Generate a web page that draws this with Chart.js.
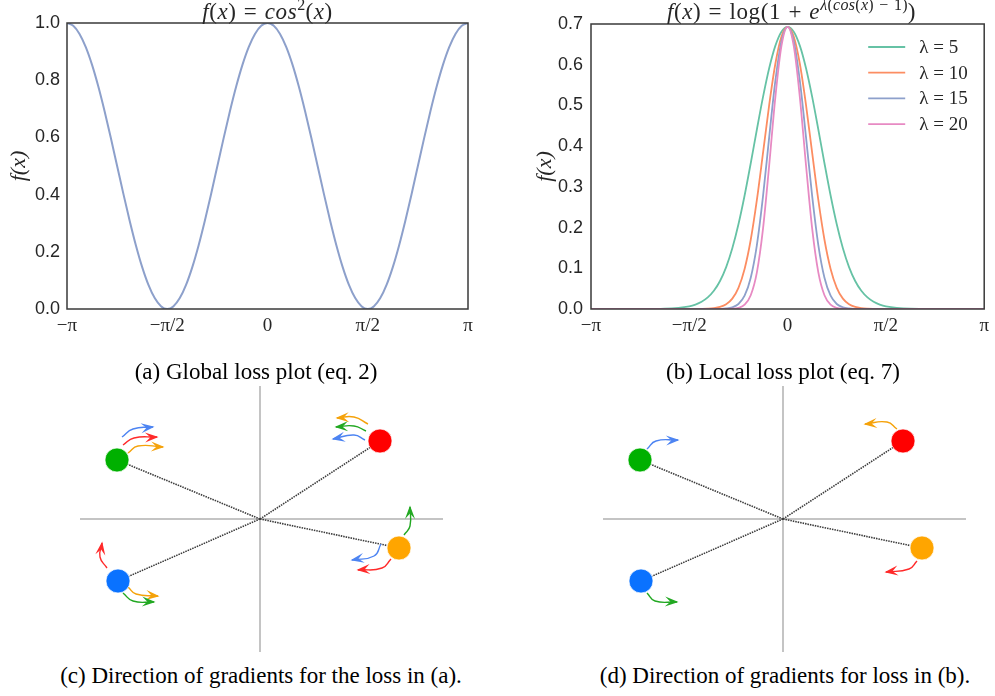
<!DOCTYPE html>
<html><head><meta charset="utf-8">
<script src="https://cdn.jsdelivr.net/npm/chart.js@4.4.0/dist/chart.umd.min.js"></script>
<style>
html,body{margin:0;padding:0;background:#fff;}
#root{position:relative;width:995px;height:696px;overflow:hidden;background:#fff;}
canvas{position:absolute;}
.t{position:absolute;text-align:center;font-family:"Liberation Serif","Times New Roman",serif;white-space:nowrap;}
.title{font-size:23px;line-height:22px;color:#262626;top:1px;letter-spacing:0.6px;word-spacing:1px;}
.title sup{font-size:16px;line-height:0;letter-spacing:0.3px;}
.cap{font-size:23px;line-height:26px;color:#000;width:500px;}
</style></head><body><div id="root">
<canvas id="ca" width="480" height="340" style="left:0;top:0"></canvas>
<canvas id="cb" width="495" height="340" style="left:500px;top:0"></canvas>
<canvas id="cc" width="400" height="280" style="left:60px;top:379px"></canvas>
<canvas id="cd" width="400" height="280" style="left:583px;top:379px"></canvas>
<div class="t title" style="left:67px;width:401px"><i>f</i>(<i>x</i>) = <i>cos</i><sup>2</sup>(<i>x</i>)</div>
<div class="t title" style="left:591px;width:401px"><i>f</i>(<i>x</i>) = log(1 + <i>e</i><sup><i>λ</i>(<i>cos</i>(<i>x</i>) − 1)</sup>)</div>
<div class="t cap" style="left:6px;top:359px">(a) Global loss plot (eq. 2)</div>
<div class="t cap" style="left:533px;top:359px">(b) Local loss plot (eq. 7)</div>
<div class="t cap" style="left:11px;top:663px">(c) Direction of gradients for the loss in (a).</div>
<div class="t cap" style="left:535px;top:663px">(d) Direction of gradients for loss in (b).</div>
</div>
<script>
// ---------- data: top panels (x in units of π) ----------
const xTickValues = [-1, -0.5, 0, 0.5, 1];
const xTickLabels = ['−π', '−π/2', '0', 'π/2', 'π'];
const yTicksA = [0, 0.2, 0.4, 0.6, 0.8, 1.0];
const yTicksB = [0, 0.1, 0.2, 0.3, 0.4, 0.5, 0.6, 0.7];

const xA = [-1, -0.96875, -0.9375, -0.90625, -0.875, -0.84375, -0.8125, -0.78125, -0.75, -0.71875, -0.6875, -0.65625, -0.625, -0.59375, -0.5625, -0.53125,
  -0.5, -0.46875, -0.4375, -0.40625, -0.375, -0.34375, -0.3125, -0.28125, -0.25, -0.21875, -0.1875, -0.15625, -0.125, -0.09375, -0.0625, -0.03125,
  0, 0.03125, 0.0625, 0.09375, 0.125, 0.15625, 0.1875, 0.21875, 0.25, 0.28125, 0.3125, 0.34375, 0.375, 0.40625, 0.4375, 0.46875,
  0.5, 0.53125, 0.5625, 0.59375, 0.625, 0.65625, 0.6875, 0.71875, 0.75, 0.78125, 0.8125, 0.84375, 0.875, 0.90625, 0.9375, 0.96875, 1];
const cosSquared = [1, 0.99039, 0.96194, 0.91573, 0.85355, 0.77779, 0.69134, 0.59755, 0.5, 0.40245, 0.30866, 0.22221, 0.14645, 0.08427, 0.03806, 0.00961,
  0, 0.00961, 0.03806, 0.08427, 0.14645, 0.22221, 0.30866, 0.40245, 0.5, 0.59755, 0.69134, 0.77779, 0.85355, 0.91573, 0.96194, 0.99039,
  1, 0.99039, 0.96194, 0.91573, 0.85355, 0.77779, 0.69134, 0.59755, 0.5, 0.40245, 0.30866, 0.22221, 0.14645, 0.08427, 0.03806, 0.00961,
  0, 0.00961, 0.03806, 0.08427, 0.14645, 0.22221, 0.30866, 0.40245, 0.5, 0.59755, 0.69134, 0.77779, 0.85355, 0.91573, 0.96194, 0.99039, 1];

const xB = [-1, -0.75, -0.625, -0.5, -0.46875, -0.4375, -0.40625, -0.375, -0.34375, -0.3125, -0.28125, -0.25, -0.21875, -0.1875, -0.15625, -0.125, -0.09375, -0.0625, -0.03125,
  0, 0.03125, 0.0625, 0.09375, 0.125, 0.15625, 0.1875, 0.21875, 0.25, 0.28125, 0.3125, 0.34375, 0.375, 0.40625, 0.4375, 0.46875, 0.5, 0.625, 0.75, 1];
const lambdaLabels = ['λ = 5', 'λ = 10', 'λ = 15', 'λ = 20'];
const lambda5 = [0.00005, 0.0002, 0.00099, 0.00672, 0.01094, 0.01771, 0.02836, 0.04465, 0.06873, 0.10289, 0.14906, 0.20799, 0.27872, 0.35807, 0.4409, 0.52084, 0.59129, 0.64628, 0.68117,
  0.69315, 0.68117, 0.64628, 0.59129, 0.52084, 0.4409, 0.35807, 0.27872, 0.20799, 0.14906, 0.10289, 0.06873, 0.04465, 0.02836, 0.01771, 0.01094, 0.00672, 0.00099, 0.0002, 0.00005];
const lambda10 = [0, 0, 0, 0.00005, 0.00012, 0.00032, 0.00083, 0.00208, 0.00505, 0.01168, 0.0255, 0.05208, 0.09833, 0.17007, 0.26777, 0.38329, 0.50086, 0.60171, 0.66934,
  0.69315, 0.66934, 0.60171, 0.50086, 0.38329, 0.26777, 0.17007, 0.09833, 0.05208, 0.0255, 0.01168, 0.00505, 0.00208, 0.00083, 0.00032, 0.00012, 0.00005, 0, 0, 0];
const lambda15 = [0, 0, 0, 0, 0, 0.00001, 0.00003, 0.0001, 0.00036, 0.00127, 0.00414, 0.01228, 0.03267, 0.0768, 0.15712, 0.27706, 0.42146, 0.55942, 0.65765,
  0.69315, 0.65765, 0.55942, 0.42146, 0.27706, 0.15712, 0.0768, 0.03267, 0.01228, 0.00414, 0.00127, 0.00036, 0.0001, 0.00003, 0.00001, 0, 0, 0, 0, 0];
const lambda20 = [0, 0, 0, 0, 0, 0, 0, 0.00001, 0.00003, 0.00014, 0.00067, 0.00285, 0.01062, 0.03379, 0.09009, 0.19736, 0.35253, 0.51939, 0.64611,
  0.69315, 0.64611, 0.51939, 0.35253, 0.19736, 0.09009, 0.03379, 0.01062, 0.00285, 0.00067, 0.00014, 0.00003, 0.00001, 0, 0, 0, 0, 0, 0, 0];

// ---------- data: bottom panels (plane coordinates, origin at axis crossing) ----------
const particleNames = ['green', 'red', 'orange', 'blue'];
const particleX = [-1.43, 1.20, 1.39, -1.42];
const particleY = [0.59, 0.78, -0.29, -0.62];
const axisHorizontal = [[-1.80, 0], [1.83, 0]];
const axisVertical = [[0, 1.33], [0, -1.33]];

// gradient arrows in (c): colour name + path (start, bend, tip)
const arrowsCColor = ['blue', 'red', 'orange', 'orange', 'green', 'blue', 'green', 'blue', 'red', 'red', 'orange', 'green'];
const arrowsCPath = [
  [[-1.38, 0.82], [-1.27, 0.90], [-1.07, 0.92]],
  [[-1.37, 0.74], [-1.26, 0.81], [-1.03, 0.82]],
  [[-1.32, 0.66], [-1.22, 0.73], [-0.97, 0.72]],
  [[1.08, 0.95], [0.94, 1.02], [0.77, 1.01]],
  [[1.06, 0.88], [0.94, 0.93], [0.76, 0.92]],
  [[1.05, 0.79], [0.94, 0.84], [0.73, 0.80]],
  [[1.44, -0.16], [1.50, -0.07], [1.50, 0.12]],
  [[1.21, -0.25], [1.14, -0.37], [0.92, -0.41]],
  [[1.31, -0.40], [1.22, -0.49], [0.98, -0.51]],
  [[-1.53, -0.49], [-1.60, -0.38], [-1.58, -0.24]],
  [[-1.32, -0.68], [-1.24, -0.75], [-1.02, -0.77]],
  [[-1.37, -0.74], [-1.27, -0.82], [-1.06, -0.83]]
];
// gradient arrows in (d)
const arrowsDColor = ['blue', 'orange', 'red', 'green'];
const arrowsDPath = [
  [[-1.36, 0.70], [-1.27, 0.78], [-1.05, 0.79]],
  [[1.14, 0.90], [1.04, 0.97], [0.82, 0.95]],
  [[1.34, -0.42], [1.26, -0.50], [1.03, -0.53]],
  [[-1.36, -0.74], [-1.28, -0.82], [-1.06, -0.83]]
];

// ---------- styles ----------
const set2 = ['#66c2a5', '#fc8d62', '#8da0cb', '#e78ac3'];
const pointColor = {green: '#00b000', red: '#ff0000', orange: '#ffa500', blue: '#0a72ff'};
const arrowColor = {green: '#22a822', red: '#ff2a2a', orange: '#f5a20a', blue: '#4d84f2'};
const textColor = '#262626';

const framePlugin = {
  id: 'frame',
  afterDatasetsDraw(chart) {
    const a = chart.chartArea, ctx = chart.ctx;
    ctx.save();
    ctx.strokeStyle = '#3a3a3a';
    ctx.lineWidth = 1.5;
    ctx.strokeRect(a.left, a.top, a.right - a.left, a.bottom - a.top);
    ctx.restore();
  }
};

const insideLegend = {
  id: 'insideLegend',
  afterDraw(chart) {
    const a = chart.chartArea, ctx = chart.ctx;
    ctx.save();
    ctx.font = '19px "Liberation Serif"';
    ctx.textBaseline = 'middle';
    ctx.textAlign = 'left';
    chart.data.datasets.forEach((ds, i) => {
      const y = a.top + 23 + i * 25.7;
      ctx.strokeStyle = ds.borderColor;
      ctx.lineWidth = 1.8;
      ctx.beginPath();
      ctx.moveTo(a.right - 116, y);
      ctx.lineTo(a.right - 79, y);
      ctx.stroke();
      ctx.fillStyle = textColor;
      ctx.fillText(ds.label, a.right - 65, y + 1);
    });
    ctx.restore();
  }
};

function lossOptions(yMin, yMax, yTicks, yWidth, padTop, padRight, titlePad, tickPad) {
  return {
    responsive: false, animation: false, devicePixelRatio: 1,
    layout: {autoPadding: false, padding: {top: padTop, right: padRight, left: 0, bottom: 0}},
    plugins: {legend: {display: false}, tooltip: {enabled: false}, title: {display: false}},
    elements: {point: {radius: 0}},
    scales: {
      x: {
        type: 'linear', min: -1, max: 1,
        grid: {display: false, drawTicks: false}, border: {display: false},
        afterBuildTicks: s => { s.ticks = xTickValues.map(v => ({value: v})); },
        afterFit: s => { s.height = 31; },
        ticks: {autoSkip: false, maxRotation: 0, padding: 6, color: textColor,
          font: {family: 'Liberation Serif', size: 19},
          callback: (v, i) => xTickLabels[i]}
      },
      y: {
        type: 'linear', min: yMin, max: yMax,
        grid: {display: false, drawTicks: false}, border: {display: false},
        afterBuildTicks: s => { s.ticks = yTicks.map(v => ({value: v})); },
        afterFit: s => { s.width = yWidth; },
        ticks: {padding: tickPad, color: textColor, font: {family: 'Liberation Sans', size: 18},
          callback: v => Number(v).toFixed(1)},
        title: {display: true, text: 'f(x)', color: textColor,
          font: {family: 'Liberation Serif', style: 'italic', size: 22},
          padding: {top: titlePad, bottom: 0}}
      }
    }
  };
}

function pts(xs, ys) { return xs.map((x, i) => ({x: x, y: ys[i]})); }

new Chart(document.getElementById('ca'), {
  type: 'line',
  data: {datasets: [{label: 'cos²(x)', data: pts(xA, cosSquared), borderColor: set2[2], borderWidth: 2,
    cubicInterpolationMode: 'monotone', fill: false}]},
  options: lossOptions(0, 1, yTicksA, 67, 23, 12, 6, 7),
  plugins: [framePlugin]
});

const lambdaSeries = [lambda5, lambda10, lambda15, lambda20];
new Chart(document.getElementById('cb'), {
  type: 'line',
  data: {datasets: lambdaSeries.map((s, i) => ({label: lambdaLabels[i], data: pts(xB, s),
    borderColor: set2[i], borderWidth: 1.8, cubicInterpolationMode: 'monotone', fill: false, order: 3 - i}))},
  options: lossOptions(0, 0.7, yTicksB, 91, 24, 3, 32, 8),
  plugins: [framePlugin, insideLegend]
});

// ---------- bottom panels ----------
const arrowheads = {
  id: 'arrowheads',
  afterDatasetsDraw(chart) {
    const ctx = chart.ctx;
    chart.data.datasets.forEach((ds, i) => {
      if (!ds.isArrow) return;
      const el = chart.getDatasetMeta(i).data;
      const tip = el[el.length - 1];
      let bx = tip.cp1x, by = tip.cp1y;
      if (bx === undefined || Math.hypot(tip.x - bx, tip.y - by) < 0.5) { bx = el[el.length - 2].x; by = el[el.length - 2].y; }
      const L = Math.hypot(tip.x - bx, tip.y - by) || 1;
      const ux = (tip.x - bx) / L, uy = (tip.y - by) / L, nx = -uy, ny = ux;
      const len = 12, w = 5;
      ctx.save();
      ctx.fillStyle = ds.borderColor;
      ctx.beginPath();
      ctx.moveTo(tip.x + 1.5 * ux, tip.y + 1.5 * uy);
      ctx.lineTo(tip.x - len * ux + w * nx, tip.y - len * uy + w * ny);
      ctx.lineTo(tip.x - 0.55 * len * ux, tip.y - 0.55 * len * uy);
      ctx.lineTo(tip.x - len * ux - w * nx, tip.y - len * uy - w * ny);
      ctx.closePath();
      ctx.fill();
      ctx.restore();
    });
  }
};

function planeChart(id, arrowColors, arrowPaths) {
  const datasets = [];
  datasets.push({data: particleNames.map((n, i) => ({x: particleX[i], y: particleY[i]})),
    pointRadius: 12, pointBackgroundColor: particleNames.map(n => pointColor[n]),
    pointBorderColor: 'rgba(255,255,255,0.7)', pointBorderWidth: 1, showLine: false, order: 0});
  arrowPaths.forEach((p, k) => {
    datasets.push({data: p.map(q => ({x: q[0], y: q[1]})), isArrow: true, showLine: true,
      borderColor: arrowColor[arrowColors[k]], borderWidth: 1.4, pointRadius: 0, tension: 0.5, order: 1});
  });
  particleNames.forEach((n, i) => {
    datasets.push({data: [{x: 0, y: 0}, {x: particleX[i], y: particleY[i]}], showLine: true,
      borderColor: '#3c3c3c', borderWidth: 1.6, borderDash: [1.5, 1], pointRadius: 0, order: 2});
  });
  [axisHorizontal, axisVertical].forEach(a => {
    datasets.push({data: a.map(q => ({x: q[0], y: q[1]})), showLine: true,
      borderColor: '#c4c4c4', borderWidth: 2, pointRadius: 0, order: 3});
  });
  new Chart(document.getElementById(id), {
    type: 'scatter',
    data: {datasets: datasets},
    options: {
      responsive: false, animation: false, devicePixelRatio: 1,
      layout: {autoPadding: false, padding: 0},
      plugins: {legend: {display: false}, tooltip: {enabled: false}},
      scales: {
        x: {type: 'linear', min: -2, max: 2, display: false},
        y: {type: 'linear', min: -1.4, max: 1.4, display: false}
      }
    },
    plugins: [arrowheads]
  });
}
planeChart('cc', arrowsCColor, arrowsCPath);
planeChart('cd', arrowsDColor, arrowsDPath);
</script>
</body></html>
